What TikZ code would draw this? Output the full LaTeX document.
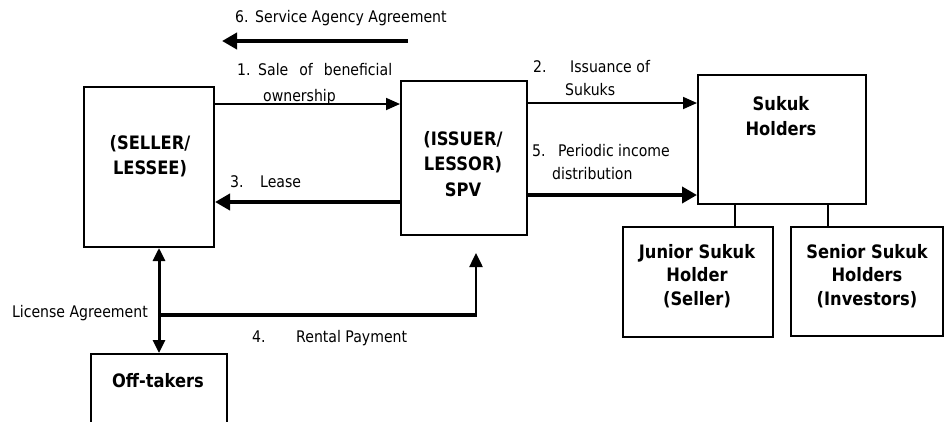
\documentclass[tikz,border=0pt]{standalone}
\usepackage{fontspec}
\setmainfont[FakeStretch=0.88]{DejaVu Sans}
\usetikzlibrary{arrows.meta}

\tikzset{
  box/.style={draw, line width=2pt, inner sep=0pt},
  lbl/.style={inner sep=0pt, align=left, font=\fontsize{16}{23.5}\selectfont},
  ttl/.style={inner sep=0pt, align=center, font=\fontsize{18.5}{25.5}\selectfont\bfseries},
  thinflow/.style={line width=1.8pt, -{Triangle[length=14pt,width=12pt]}},
  thickflow/.style={line width=4pt, -{Triangle[length=15pt,width=16pt]}},
  link/.style={line width=2pt},
}

\begin{document}
\begin{tikzpicture}[x=1pt,y=-1pt]
\useasboundingbox (0,0) rectangle (945,421);

% parties
\node[box, minimum width=130pt, minimum height=160pt] (seller) at (149,167) {};
\node[box, minimum width=126pt, minimum height=154pt] (spv) at (464,158) {};
\node[box, minimum width=168pt, minimum height=129pt] (sukuk) at (782,139.5) {};
\node[box, minimum width=150pt, minimum height=110pt] (junior) at (698,282) {};
\node[box, minimum width=152pt, minimum height=109pt] (senior) at (867,281.5) {};
\node[box, minimum width=136pt, minimum height=80pt, anchor=north] (off) at (159,353) {};

% party names
\node[ttl] (sellerT) at (150,156) {(SELLER/\\LESSEE)};
\node[ttl] (spvT) at (463,164) {(ISSUER/\\LESSOR)\\SPV};
\node[ttl] (sukukT) at (781,116) {Sukuk\\Holders};
\node[ttl, font=\fontsize{18.5}{23.5}\selectfont\bfseries] (juniorT) at (697,276) {Junior Sukuk\\Holder\\(Seller)};
\node[ttl, font=\fontsize{18.5}{23.5}\selectfont\bfseries] (seniorT) at (867,276) {Senior Sukuk\\Holders\\(Investors)};
\node[ttl] (offT) at (158,381) {Off-takers};

% flow labels
\node[lbl, anchor=west] (l6) at (235,18) {\makebox[20pt][l]{6.}Service Agency Agreement};
\node[lbl, anchor=west, font=\fontsize{16}{26.5}\selectfont] (l1) at (237,84)
  {\makebox[21pt][l]{1.}Sale\hspace{11pt}of\hspace{11pt}beneficial\\\hspace*{26pt}ownership};
\node[lbl, anchor=west] (l2) at (533,78) {\makebox[37pt][l]{2.}Issuance of\\\hspace*{32pt}Sukuks};
\node[lbl, anchor=west] (l5) at (532,162) {\makebox[26pt][l]{5.}Periodic income\\\hspace*{20pt}distribution};
\node[lbl, anchor=west] (l3) at (230,182) {\makebox[30pt][l]{3.}Lease};
\node[lbl, anchor=west] (l4) at (252,338) {\makebox[44pt][l]{4.}Rental Payment};
\node[lbl, anchor=east] (lic) at (148,313) {License Agreement};

% 6. service agency agreement
\coordinate (a6s) at (408,41);
\coordinate (a6e) at (222,41);
\draw[thickflow] (a6s) -- (a6e);

% flows between seller, SPV and sukuk holders
\draw[thinflow] (seller.east |- 0,104) -- (spv.west |- 0,104);
\draw[thickflow] (spv.west |- 0,202) -- (seller.east |- 0,202);
\draw[thinflow] (spv.east |- 0,103) -- (sukuk.west |- 0,103);
\draw[thickflow] (spv.east |- 0,195) -- (sukuk.west |- 0,195);

% sukuk holder classes
\draw[link] (sukuk.south -| 735,0) -- (junior.north -| 735,0);
\draw[link] (sukuk.south -| 828,0) -- (senior.north -| 828,0);

% license agreement
\draw[line width=3pt, {Triangle[length=13pt,width=12pt]}-{Triangle[length=13pt,width=12pt]}]
  (seller.south -| off.north) -- (off.north);

% 4. rental payment
\coordinate (rj) at (off.north |- 0,315);
\coordinate (rc) at (476,315);
\coordinate (rt) at ([yshift=-17pt]spv.south -| rc);
\draw[line width=4pt, shorten >=-1.25pt] (rj) -- (rc);
\draw[line width=2.5pt, -{Triangle[length=14pt,width=13pt]}] (rc) -- (rt);
\end{tikzpicture}
\end{document}
